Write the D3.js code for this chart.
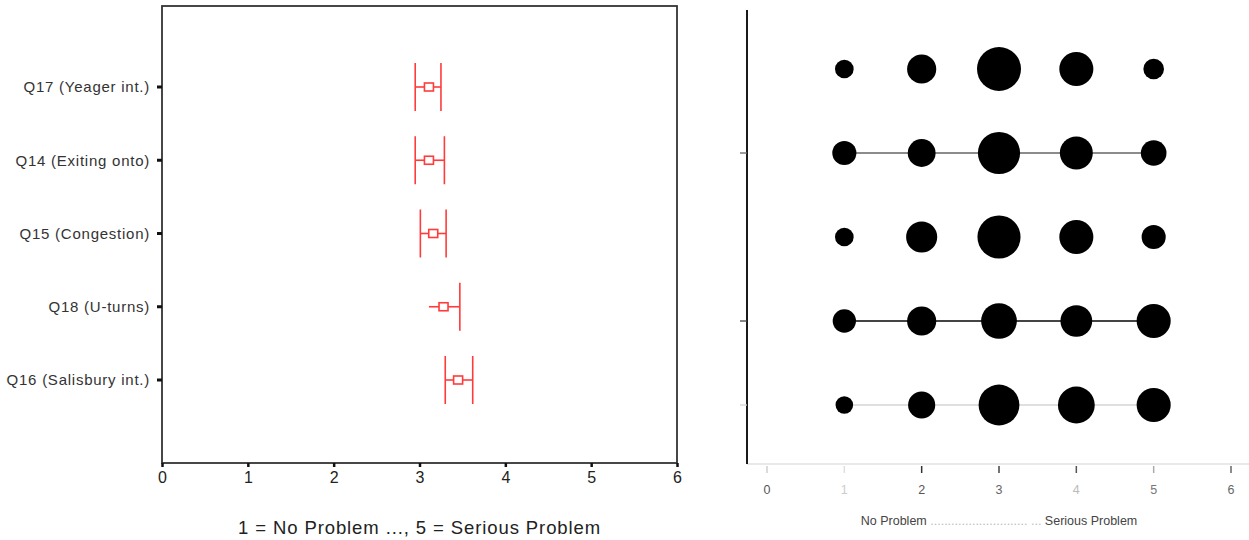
<!DOCTYPE html>
<html><head><meta charset="utf-8">
<script src="https://cdn.jsdelivr.net/npm/d3@7"></script>
<style>
html,body{margin:0;padding:0;background:#fff;}
svg{display:block;}
text{font-family:"Liberation Sans",Arial,sans-serif;}
</style></head>
<body>
<svg id="chart" width="1249" height="540"></svg>
<script>
// ---- Left panel data (means with confidence intervals) ----
const categories = ["Q17 (Yeager int.)","Q14 (Exiting onto)","Q15 (Congestion)","Q18 (U-turns)","Q16 (Salisbury int.)"];
const means = [3.11, 3.11, 3.16, 3.28, 3.45];
const lower = [2.95, 2.95, 3.01, 3.11, 3.30];
const upper = [3.25, 3.29, 3.31, 3.47, 3.62];
const lowerCapShown = [true, true, true, false, true];
const xTicksLeft = [0,1,2,3,4,5,6];
const leftTitle = "1 = No Problem  ..., 5 = Serious Problem";

// ---- Right panel data (response counts per rating) ----
const ratings = [1,2,3,4,5];
const rowIds = ["r1","r2","r3","r4","r5"];
const row1 = [9, 22, 50, 30, 11];
const row2 = [15, 20, 46, 28, 17];
const row3 = [9, 25, 48, 30, 15];
const row4 = [14, 22, 33, 26, 30];
const row5 = [8, 19, 43, 35, 30];
const rowCounts = [row1,row2,row3,row4,row5];
const rowLine = ["none","mid","none","dark","light"];
const xTicksRight = [0,1,2,3,4,5,6];

const svg = d3.select("#chart");

// ===== Left panel =====
const xL = d3.scaleLinear().domain([0,6]).range([162,677]);
const yL = d3.scalePoint().domain(categories).range([87,380]);
const frameTop = 6, frameBottom = 463;
const red = "#ff3b3b";

const gL = svg.append("g");
gL.append("rect").attr("x", xL(0)).attr("y", frameTop)
  .attr("width", xL(6)-xL(0)).attr("height", frameBottom-frameTop)
  .attr("fill","none").attr("stroke","#333").attr("stroke-width",1.8);

// category ticks & labels
categories.forEach((c,i)=>{
  gL.append("rect").attr("x", xL(0)-5).attr("y", yL(c)-1.5).attr("width",5).attr("height",3).attr("fill","#111");
  gL.append("text").attr("x", xL(0)-12).attr("y", yL(c)).attr("dy","0.36em")
    .attr("text-anchor","end").attr("font-size",15).attr("letter-spacing","0.75px")
    .attr("fill","#333").text(c);
});

// x axis ticks
const axL = gL.append("g").attr("transform",`translate(0,${frameBottom})`)
  .call(d3.axisBottom(xL).tickValues(xTicksLeft).tickSize(4).tickFormat(d3.format("d")));
axL.select(".domain").remove();
axL.selectAll(".tick line").attr("stroke","#111").attr("stroke-width",2.5);
axL.selectAll(".tick text").attr("font-size",16).attr("fill","#222").attr("y",9).attr("dy","0.71em")
  .attr("font-family","Liberation Sans, Arial, sans-serif");

gL.append("text").attr("x",(xL(0)+xL(6))/2).attr("y",528).attr("dy","0.35em")
  .attr("text-anchor","middle").attr("font-size",18.5).attr("letter-spacing","0.9px")
  .attr("fill","#222").text(leftTitle);

// error bars
const capHalf = 24;
categories.forEach((c,i)=>{
  const y = yL(c);
  const g = gL.append("g").attr("stroke",red).attr("fill","none").attr("stroke-width",1.6);
  g.append("line").attr("x1",xL(lower[i])).attr("x2",xL(upper[i])).attr("y1",y).attr("y2",y);
  if (lowerCapShown[i]) g.append("line").attr("x1",xL(lower[i])).attr("x2",xL(lower[i])).attr("y1",y-capHalf).attr("y2",y+capHalf);
  g.append("line").attr("x1",xL(upper[i])).attr("x2",xL(upper[i])).attr("y1",y-capHalf).attr("y2",y+capHalf);
  g.append("rect").attr("x",xL(means[i])-4.5).attr("y",y-4).attr("width",9).attr("height",8).attr("fill","#fff");
});

// ===== Right panel =====
const xR = d3.scaleLinear().domain([0,6]).range([767,1231]);
const yR = d3.scalePoint().domain(rowIds).range([69,405]);
const axisX = 747, rTop = 10, rBottom = 464;
const maxCount = d3.max(rowCounts.flat());
const rScale = d3.scaleSqrt().domain([0,maxCount]).range([0,22]);
const gR = svg.append("g");

// x axis line (light)
gR.append("line").attr("x1",axisX).attr("x2",1249).attr("y1",rBottom).attr("y2",rBottom)
  .attr("stroke","#e2e2e2").attr("stroke-width",1.5);
const tickColors = ["#cfcfcf","#dedede","#333","#444","#555","#aaa","#666"];
const labelColors = ["#555","#ccc","#555","#666","#bbb","#777","#666"];
xTicksRight.forEach((t,i)=>{
  gR.append("line").attr("x1",xR(t)).attr("x2",xR(t)).attr("y1",rBottom+2).attr("y2",rBottom+9)
    .attr("stroke",tickColors[i]).attr("stroke-width",1.5);
  gR.append("text").attr("x",xR(t)).attr("y",490).attr("dy","0.35em").attr("text-anchor","middle")
    .attr("font-size",12.5).attr("fill",labelColors[i]).text(t);
});

// vertical axis
gR.append("line").attr("x1",axisX).attr("x2",axisX).attr("y1",rTop).attr("y2",rBottom)
  .attr("stroke","#1a1a1a").attr("stroke-width",2);

// row connector lines and y ticks
const lineStyle = {mid:{c:"#666",w:1.3}, dark:{c:"#444",w:2}, light:{c:"#d4d4d4",w:1.5}};
rowIds.forEach((r,i)=>{
  const st = lineStyle[rowLine[i]];
  if (!st) return;
  const y = yR(r);
  gR.append("line").attr("x1",xR(ratings[0])).attr("x2",xR(ratings[ratings.length-1]))
    .attr("y1",y).attr("y2",y).attr("stroke",st.c).attr("stroke-width",st.w);
  gR.append("line").attr("x1",axisX-7).attr("x2",axisX).attr("y1",y).attr("y2",y)
    .attr("stroke",st.c).attr("stroke-width",1.3);
});

// bubbles
rowIds.forEach((r,i)=>{
  gR.selectAll(null).data(rowCounts[i]).enter().append("circle")
    .attr("cx",(d,j)=>xR(ratings[j])).attr("cy",yR(r)).attr("r",d=>rScale(d))
    .attr("fill","#000");
});

// right title
const t = gR.append("text").attr("x",(xR(1)+xR(5))/2).attr("y",521).attr("dy","0.35em")
  .attr("text-anchor","middle").attr("font-size",12.5).attr("fill","#444");
t.append("tspan").text("No Problem ");
t.append("tspan").attr("fill","#bbb").text("............................ ... ");
t.append("tspan").text("Serious Problem");
</script>
</body></html>
